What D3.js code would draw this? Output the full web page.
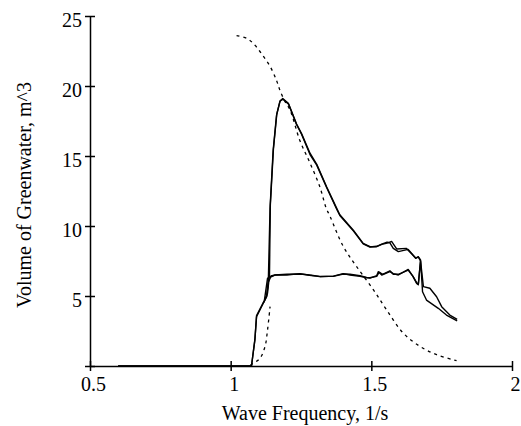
<!DOCTYPE html>
<html>
<head>
<meta charset="utf-8">
<script src="https://cdn.jsdelivr.net/npm/d3@7"></script>
<style>
  html, body { margin: 0; padding: 0; background: #fff; }
  svg { display: block; }
  text { font-family: "Liberation Serif", "Times New Roman", serif; fill: #000; }
</style>
</head>
<body>
<svg id="chart" width="521" height="426"></svg>
<script>
// ---- Data ----
const xTicks = [0.5, 1, 1.5, 2];
const xTickLabels = ["0.5", "1", "1.5", "2"];
const yTicks = [0, 5, 10, 15, 20, 25];
const yTickLabels = ["", "5", "10", "15", "20", "25"];

// Measured series A: lower branch (incl. ground and tail)
const lowerAFreq = [0.6, 1.074, 1.086, 1.092, 1.116, 1.128, 1.134, 1.142, 1.157, 1.2, 1.246, 1.28, 1.317, 1.365, 1.4, 1.424, 1.46, 1.483, 1.495, 1.519, 1.525, 1.537, 1.566, 1.578, 1.596, 1.631, 1.648, 1.661, 1.667, 1.675, 1.682, 1.696, 1.738, 1.767, 1.805];
const lowerAVol  = [0, 0, 1.86, 3.52, 4.48, 4.95, 6.0, 6.35, 6.5, 6.55, 6.57, 6.5, 6.4, 6.4, 6.57, 6.55, 6.45, 6.33, 6.28, 6.45, 6.74, 6.5, 6.74, 6.6, 6.5, 6.9, 6.4, 5.9, 5.8, 7.57, 5.3, 4.71, 4.12, 3.64, 3.22];
// Measured series A: upper branch
const upperAFreq = [1.116, 1.128, 1.134, 1.14, 1.151, 1.163, 1.175, 1.185, 1.205, 1.234, 1.252, 1.282, 1.306, 1.341, 1.377, 1.388, 1.436, 1.471, 1.495, 1.519, 1.537, 1.56, 1.572, 1.59, 1.625, 1.658, 1.667, 1.675];
const upperAVol  = [4.48, 5.0, 6.2, 11.3, 15.4, 17.9, 18.9, 19.1, 18.76, 17.3, 16.6, 15.2, 14.4, 12.8, 11.26, 10.8, 9.7, 8.76, 8.52, 8.52, 8.69, 8.79, 8.9, 8.36, 8.4, 7.7, 7.8, 7.57];

// Measured series B: lower branch
const lowerBFreq = [0.6, 1.074, 1.086, 1.092, 1.12, 1.131, 1.146, 1.16, 1.2, 1.246, 1.28, 1.317, 1.365, 1.4, 1.424, 1.46, 1.483, 1.495, 1.519, 1.528, 1.54, 1.566, 1.578, 1.596, 1.631, 1.648, 1.661, 1.667, 1.675, 1.685, 1.708, 1.732, 1.75, 1.779, 1.805];
const lowerBVol  = [0, 0, 1.86, 3.6, 4.7, 6.26, 6.45, 6.5, 6.5, 6.6, 6.48, 6.38, 6.42, 6.6, 6.5, 6.4, 6.3, 6.3, 6.4, 6.7, 6.55, 6.8, 6.55, 6.55, 6.85, 6.4, 5.95, 5.85, 7.5, 5.67, 5.55, 4.95, 4.24, 3.64, 3.33];
// Measured series B: upper branch
const upperBFreq = [1.12, 1.131, 1.138, 1.141, 1.152, 1.164, 1.176, 1.186, 1.206, 1.234, 1.252, 1.282, 1.306, 1.341, 1.377, 1.388, 1.436, 1.471, 1.495, 1.519, 1.537, 1.556, 1.566, 1.578, 1.596, 1.631, 1.658, 1.667, 1.675];
const upperBVol  = [4.7, 5.2, 6.5, 11.5, 15.5, 18.0, 18.95, 19.05, 18.7, 17.25, 16.55, 15.1, 14.35, 12.75, 11.2, 10.75, 9.65, 8.72, 8.5, 8.55, 8.7, 8.85, 8.8, 8.4, 8.17, 8.33, 7.7, 7.8, 7.5];

// Theoretical curve (dashed): stable branch
const theoryFreq = [1.021, 1.057, 1.08, 1.11, 1.14, 1.163, 1.175, 1.193, 1.211, 1.246, 1.282, 1.317, 1.339, 1.353, 1.4, 1.447, 1.507, 1.554, 1.613, 1.673, 1.732, 1.803];
const theoryVol  = [23.6, 23.4, 23.05, 22.3, 21.4, 20.4, 19.7, 18.9, 18.3, 16.1, 14.5, 12.8, 11.3, 10.7, 8.55, 7.12, 5.45, 4.02, 2.36, 1.4, 0.81, 0.38];
// Theoretical curve (dashed): lower branch
const theoryLowFreq = [1.07, 1.08, 1.104, 1.122, 1.131, 1.14];
const theoryLowVol  = [0.05, 0.19, 0.55, 1.38, 2.57, 4.24];

// ---- Chart ----
const svg = d3.select("#chart");
const x = d3.scaleLinear().domain([0.5, 2]).range([90, 512]);
const y = d3.scaleLinear().domain([0, 25]).range([366, 16]);

const zip = (fs, vs) => fs.map((f, i) => [f, vs[i]]);
const lineLin = d3.line().x(d => x(d[0])).y(d => y(d[1]));
const lineSmooth = d3.line().x(d => x(d[0])).y(d => y(d[1])).curve(d3.curveCatmullRom);

// Axes
const xAxis = d3.axisBottom(x).tickValues(xTicks)
  .tickFormat((d, i) => xTickLabels[i]).tickSizeInner(5).tickSizeOuter(0).tickPadding(6);
const gx = svg.append("g").attr("transform", `translate(0,${y(0)})`).call(xAxis);
gx.selectAll(".tick line").attr("y1", -5).attr("y2", 5);
gx.selectAll(".tick text").attr("dx", 3);

const yAxis = d3.axisLeft(y).tickValues(yTicks)
  .tickFormat((d, i) => yTickLabels[i]).tickSizeInner(5).tickSizeOuter(0).tickPadding(3);
const gy = svg.append("g").attr("transform", `translate(${x(0.5)},0)`).call(yAxis);
gy.selectAll(".tick line").attr("x1", 5).attr("x2", -5);
gy.selectAll(".tick text").attr("dy", "0.5em");

[gx, gy].forEach(g => {
  g.select(".domain").attr("stroke", "#000").attr("stroke-width", 1.5);
  g.selectAll(".tick line").attr("stroke", "#000").attr("stroke-width", 1.5);
  g.selectAll(".tick text").style("font-size", "20px")
    .style("font-family", '"Liberation Serif", "Times New Roman", serif').attr("fill", "#000");
});

// Dashed theory curves
[zip(theoryFreq, theoryVol), zip(theoryLowFreq, theoryLowVol)].forEach(d => {
  svg.append("path").datum(d).attr("d", lineSmooth)
    .attr("fill", "none").attr("stroke", "#000").attr("stroke-width", 1.3)
    .attr("stroke-dasharray", "3,4");
});

// Measured curves
[zip(lowerBFreq, lowerBVol), zip(upperBFreq, upperBVol), zip(lowerAFreq, lowerAVol), zip(upperAFreq, upperAVol)]
  .forEach(d => {
    svg.append("path").datum(d).attr("d", lineLin)
      .attr("fill", "none").attr("stroke", "#000").attr("stroke-width", 1.4)
      .attr("stroke-linejoin", "round");
  });

// Axis titles
svg.append("text").attr("x", 305).attr("y", 420).attr("text-anchor", "middle")
  .style("font-size", "20px").text("Wave Frequency, 1/s");
svg.append("text").attr("transform", "translate(31,195) rotate(-90)").attr("text-anchor", "middle")
  .style("font-size", "20px").text("Volume of Greenwater, m^3");
</script>
</body>
</html>
